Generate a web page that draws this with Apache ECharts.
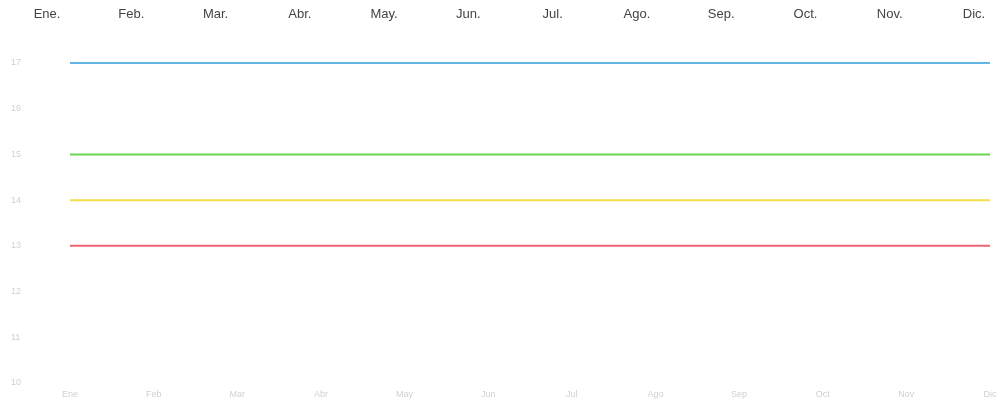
<!DOCTYPE html>
<html><head><meta charset="utf-8">
<script src="https://cdn.jsdelivr.net/npm/echarts@6/dist/echarts.min.js"></script>
<style>html,body{margin:0;padding:0;background:#fff}#c{width:1003px;height:404px}</style>
</head><body><div id="c"></div>
<script>
var months = ['Ene.','Feb.','Mar.','Abr.','May.','Jun.','Jul.','Ago.','Sep.','Oct.','Nov.','Dic.'];
var monthsBottom = ['Ene','Feb','Mar','Abr','May','Jun','Jul','Ago','Sep','Oct','Nov','Dic'];
var yTicks = [10, 11, 12, 13, 14, 15, 16, 17];
var blueSeries   = [17,17,17,17,17,17,17,17,17,17,17,17];
var greenSeries  = [15,15,15,15,15,15,15,15,15,15,15,15];
var yellowSeries = [14,14,14,14,14,14,14,14,14,14,14,14];
var redSeries    = [13,13,13,13,13,13,13,13,13,13,13,13];

var chart = echarts.init(document.getElementById('c'), null, {renderer:'canvas'});
function line(data, color){
  return {type:'line', data:data, xAxisIndex:0, yAxisIndex:0, symbol:'none', silent:true,
    lineStyle:{color:color, width:2}};
}
chart.setOption({
  animation:false,
  backgroundColor:'#ffffff',
  grid:[
    {left:70, right:13, top:63, bottom:21},
    {left:47, right:29, top:0, bottom:380}
  ],
  xAxis:[
    {type:'category', gridIndex:0, data:monthsBottom, boundaryGap:false,
     axisLine:{show:false}, axisTick:{show:false}, splitLine:{show:false},
     axisLabel:{color:'#d0d0d0', fontSize:9, fontFamily:'Liberation Sans', margin:7}},
    {type:'category', gridIndex:1, position:'top', data:months, boundaryGap:false,
     axisLine:{show:false}, axisTick:{show:false}, splitLine:{show:false},
     axisLabel:{color:'#444444', fontSize:13, fontFamily:'Liberation Sans', margin:-21}}
  ],
  yAxis:[
    {type:'value', gridIndex:0, min:yTicks[0], max:yTicks[yTicks.length-1], interval:1,
     axisLine:{show:false}, axisTick:{show:false}, splitLine:{show:false},
     axisLabel:{color:'#d0d0d0', fontSize:9, fontFamily:'Liberation Sans', align:'left', margin:59}},
    {type:'value', gridIndex:1, show:false}
  ],
  series:[
    line(blueSeries, '#62b6e6'),
    line(greenSeries, '#6cd450'),
    line(yellowSeries, '#f2de48'),
    line(redSeries, '#ef6470')
  ]
});
</script></body></html>
